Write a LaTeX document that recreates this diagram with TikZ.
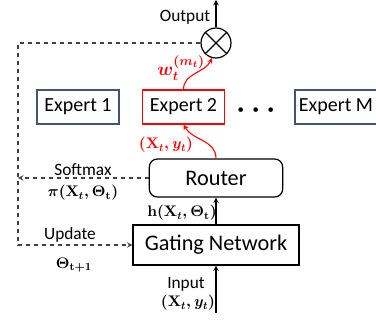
\documentclass[tikz,border=0pt]{standalone}
\usepackage{fix-cm}
\usepackage{amsmath,bm}
\usepackage{fontspec}
\setmainfont{Carlito}
\usetikzlibrary{arrows.meta}
\definecolor{expertblue}{HTML}{44546A}
\tikzset{
  box/.style={draw, line width=0.9pt, inner sep=0pt},
  expert/.style={box, draw=expertblue, minimum width=61.5pt, minimum height=25.5pt,
    font=\fontsize{15}{18}\selectfont},
  bigbox/.style={box, font=\fontsize{16.7}{20}\selectfont},
  lbl/.style={inner sep=0pt, font=\fontsize{13}{15}\selectfont},
  mathlbl/.style={inner sep=0pt, font=\fontsize{11.5}{14}\selectfont\boldmath},
  flow/.style={->, >=stealth, line width=0.8pt},
  feedback/.style={flow, dashed, draw=black!75},
  redflow/.style={flow, red},
}
\begin{document}
\begin{tikzpicture}[x=0.75pt,y=-0.75pt]
  \useasboundingbox (0,0) rectangle (376,320);
  % experts
  \node[expert] (e1) at (78,107) {Expert 1};
  \node[expert, draw=red] (e2) at (183.5,107) {Expert 2};
  \node[expert] (em) at (336,107) {Expert M};
  \node[inner sep=0pt, anchor=base, font=\fontsize{22}{22}\selectfont\boldmath] (dots) at (259,118) {$\cdots$};
  % router and gating network
  \node[bigbox, rounded corners=6pt, minimum width=100pt, minimum height=28.5pt] (router) at (216,178) {Router};
  \node[bigbox, minimum width=124.5pt, minimum height=30pt] (gate) at (216,245) {Gating Network};
  \node[draw, circle, line width=0.9pt, minimum size=22.5pt, inner sep=0pt] (mx) at (216,43) {};
  \draw[line width=0.9pt] (mx.north west) -- (mx.south east) (mx.north east) -- (mx.south west);
  \coordinate (out) at (216,0);
  \coordinate (in) at (216,313);
  \coordinate (tl) at (18,43);
  \coordinate (ml) at (18,178);
  \coordinate (bl) at (18,245);
  % connectors
  \draw[flow] (mx) -- (out);
  \draw[flow] (in) -- (gate);
  \draw[flow] (gate) -- (router);
  \draw[feedback] (router) -- (ml);
  \draw[feedback] (mx) -- (tl) -- (bl) -- (gate);
  \draw[redflow] (router.north) to[out=90,in=-60] (e2.south);
  \draw[redflow] (e2.north) to[out=90,in=-115] (mx.-105);
  % labels
  \node[lbl] (outlbl) at (185,17) {Output};
  \node[mathlbl, red, font=\fontsize{14}{16}\selectfont\boldmath] (wlbl) at (181,68) {$w_t^{(m_t)}$};
  \node[mathlbl, red] (xylbl) at (166,145) {$(\mathbf{X}_t,y_t)$};
  \node[mathlbl] (hlbl) at (182,213) {$\mathbf{h}(\mathbf{X}_t,\Theta_{\mathbf{t}})$};
  \node[lbl] (smlbl) at (83,170) {Softmax};
  \node[mathlbl] (pilbl) at (83,193) {$\pi(\mathbf{X}_t,\Theta_{\mathbf{t}})$};
  \node[lbl] (uplbl) at (70,235) {Update};
  \node[mathlbl] (thlbl) at (74,265) {$\Theta_{\mathbf{t+1}}$};
  \node[lbl] (inlbl) at (186,284) {Input};
  \node[mathlbl] (inxy) at (188,303) {$(\mathbf{X}_t,y_t)$};
\end{tikzpicture}
\end{document}
